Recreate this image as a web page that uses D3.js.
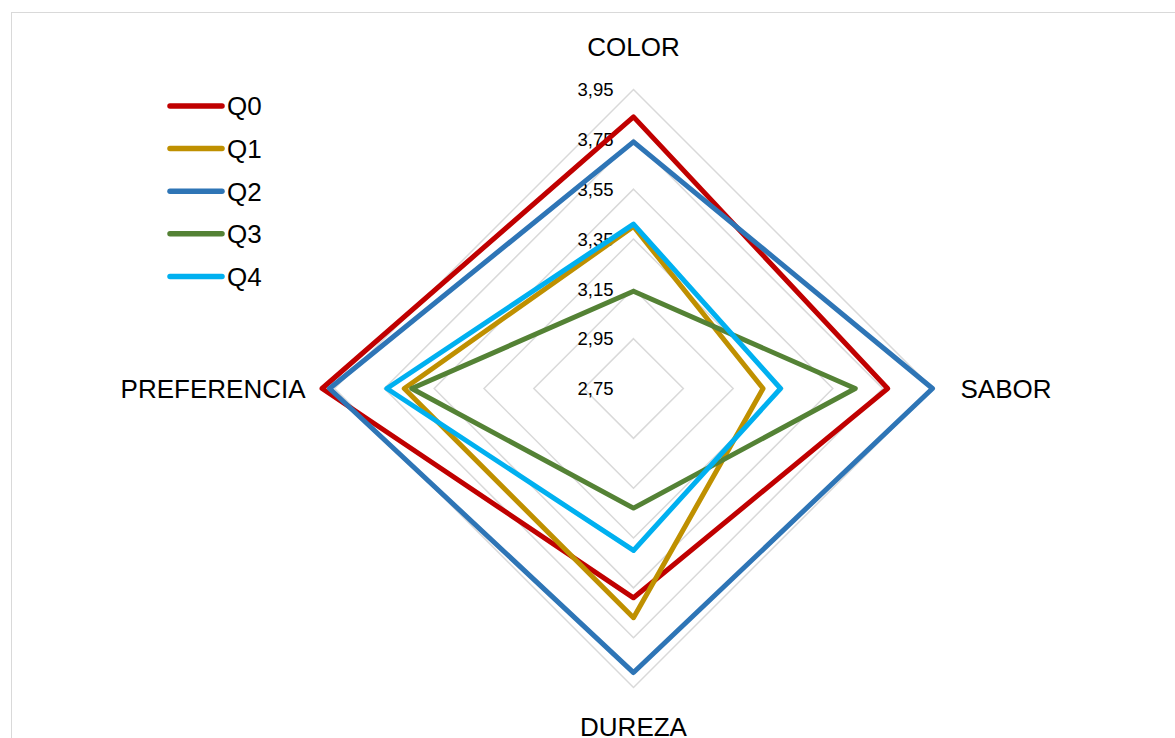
<!DOCTYPE html>
<html>
<head>
<meta charset="utf-8">
<script src="https://cdn.jsdelivr.net/npm/d3@7"></script>
<style>
  html, body { margin: 0; padding: 0; background: #fff; }
  svg { display: block; font-family: "Liberation Sans", Arial, sans-serif; }
</style>
</head>
<body>
<svg id="chart" width="1175" height="738"></svg>
<script>
// Sensory attributes (radar axes, clockwise from top)
const categories = ["COLOR", "SABOR", "DUREZA", "PREFERENCIA"];

// Mean scores per formulation
const seriesNames = ["Q0", "Q1", "Q2", "Q3", "Q4"];
const q0 = [3.84, 3.77, 3.59, 4.00];
const q1 = [3.40, 3.27, 3.67, 3.67];
const q2 = [3.74, 3.95, 3.89, 3.97];
const q3 = [3.14, 3.64, 3.23, 3.64];
const q4 = [3.41, 3.34, 3.40, 3.74];
const seriesColors = ["#C00000", "#BF9000", "#2E75B6", "#548235", "#00B0F0"];

// Radial axis ticks
const tickValues = [2.75, 2.95, 3.15, 3.35, 3.55, 3.75, 3.95];
const tickLabels = ["2,75", "2,95", "3,15", "3,35", "3,55", "3,75", "3,95"];

const series = [q0, q1, q2, q3, q4].map((v, i) => ({
  name: seriesNames[i], values: v, color: seriesColors[i]
}));

const svg = d3.select("#chart");
const cx = 633.5, cy = 388.5, R = 299;

const r = d3.scaleLinear().domain([2.75, 3.95]).range([0, R]);
const angle = d3.scalePoint().domain(categories).range([0, 2 * Math.PI * 3 / 4]);

// plot area frame
svg.append("rect")
  .attr("x", 11.5).attr("y", 12.5)
  .attr("width", 1200).attr("height", 800)
  .attr("fill", "none").attr("stroke", "#d9d9d9").attr("stroke-width", 1);

const g = svg.append("g").attr("transform", `translate(${cx},${cy})`);

const pt = (cat, v) => {
  const a = angle(cat);
  return [Math.sin(a) * r(v), -Math.cos(a) * r(v)];
};

const radarLine = d3.line().curve(d3.curveLinearClosed);

// grid rings
g.selectAll("path.grid")
  .data(tickValues.slice(1))
  .join("path")
  .attr("class", "grid")
  .attr("d", t => radarLine(categories.map(c => pt(c, t))))
  .attr("fill", "none")
  .attr("stroke", "#d9d9d9")
  .attr("stroke-width", 1.5);

// tick labels along the COLOR axis
g.selectAll("text.tick")
  .data(tickValues)
  .join("text")
  .attr("class", "tick")
  .attr("x", -20)
  .attr("y", (t) => -r(t))
  .attr("dy", "0.36em")
  .attr("text-anchor", "end")
  .attr("font-size", 18.5)
  .attr("fill", "#000")
  .text((t, i) => tickLabels[i]);

// series outlines
g.selectAll("path.series")
  .data(series)
  .join("path")
  .attr("class", "series")
  .attr("d", s => radarLine(categories.map((c, i) => pt(c, s.values[i]))))
  .attr("fill", "none")
  .attr("stroke", s => s.color)
  .attr("stroke-width", 5)
  .attr("stroke-linejoin", "round");

// category labels
const catPos = {
  COLOR: { x: 0, y: 56 - cy, anchor: "middle" },
  SABOR: { x: 327, y: 9, anchor: "start" },
  DUREZA: { x: 0, y: 736 - cy, anchor: "middle" },
  PREFERENCIA: { x: -328, y: 9, anchor: "end" }
};
g.selectAll("text.cat")
  .data(categories)
  .join("text")
  .attr("class", "cat")
  .attr("x", c => catPos[c].x)
  .attr("y", c => catPos[c].y)
  .attr("text-anchor", c => catPos[c].anchor)
  .attr("font-size", 26)
  .attr("fill", "#000")
  .text(c => c);

// legend
const legend = svg.append("g").attr("transform", "translate(168,106)");
const item = legend.selectAll("g")
  .data(series)
  .join("g")
  .attr("transform", (d, i) => `translate(0,${i * 42.6})`);
item.append("line")
  .attr("x1", 2).attr("x2", 54)
  .attr("stroke", d => d.color)
  .attr("stroke-width", 5.5)
  .attr("stroke-linecap", "round");
item.append("text")
  .attr("x", 59)
  .attr("dy", "0.36em")
  .attr("font-size", 26)
  .attr("fill", "#000")
  .text(d => d.name);
</script>
</body>
</html>
